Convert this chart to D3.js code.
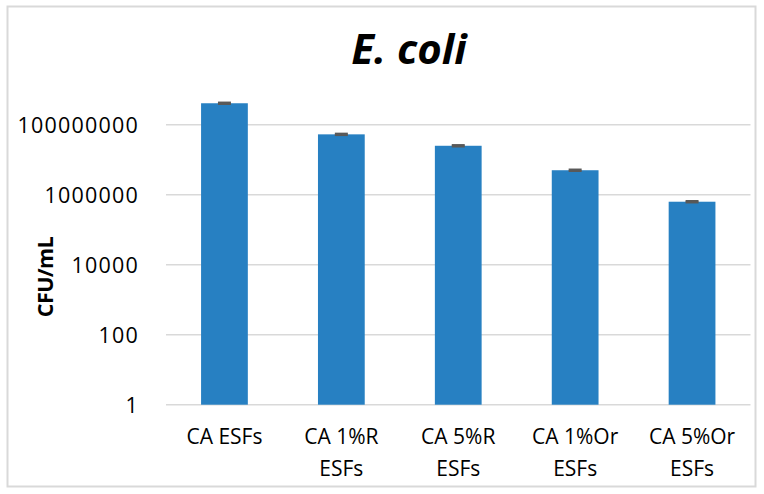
<!DOCTYPE html>
<html>
<head>
<meta charset="utf-8">
<script src="https://cdn.jsdelivr.net/npm/d3@7/dist/d3.min.js"></script>
<style>
  body { margin: 0; background: #fff; }
  svg { display: block; }
</style>
</head>
<body>
<svg id="chart" width="764" height="494"></svg>
<script>
const categories = ["CA ESFs", "CA 1%R ESFs", "CA 5%R ESFs", "CA 1%Or ESFs", "CA 5%Or ESFs"];
const categoryLines = [["CA ESFs"], ["CA 1%R", "ESFs"], ["CA 5%R", "ESFs"], ["CA 1%Or", "ESFs"], ["CA 5%Or", "ESFs"]];
const values = [4.1e8, 5.3e7, 2.5e7, 5.0e6, 6.3e5];
const errors = [1.9e7, 2.5e6, 1.2e6, 2.4e5, 3.0e4];
const yTicks = [1, 100, 10000, 1000000, 100000000];
const titleText = "E. coli";
const yTitle = "CFU/mL";

const svg = d3.select("#chart");
const W = 764, H = 494;
const font = "'Open Sans', 'Liberation Sans', sans-serif";

svg.append("rect").attr("x", 0).attr("y", 0).attr("width", W).attr("height", H).attr("fill", "#fff");
// outer border
svg.append("rect")
  .attr("x", 7.5).attr("y", 6.5).attr("width", 748).attr("height", 480)
  .attr("fill", "none").attr("stroke", "#d9d9d9").attr("stroke-width", 2);

const left = 166, right = 750.5;
const x = d3.scaleBand().domain(categories).range([left, right]).paddingInner(0.6).paddingOuter(0.3);
const y = d3.scaleLog().domain([1, 1e10]).range([404.7, 54.7]);

// gridlines
svg.append("g").selectAll("line").data(yTicks).join("line")
  .attr("x1", left).attr("x2", right)
  .attr("y1", d => y(d)).attr("y2", d => y(d))
  .attr("stroke", "#d9d9d9").attr("stroke-width", 1.5);

// y tick labels
svg.append("g").selectAll("text").data(yTicks).join("text")
  .attr("x", 139).attr("y", d => y(d))
  .attr("text-anchor", "end").attr("dominant-baseline", "central")
  .attr("font-family", font).attr("font-size", 21.5).attr("letter-spacing", 1.2)
  .attr("fill", "#000")
  .text(d => d3.format("d")(d));

// bars
svg.append("g").selectAll("rect").data(values).join("rect")
  .attr("x", (d, i) => x(categories[i]))
  .attr("width", x.bandwidth())
  .attr("y", d => y(d))
  .attr("height", d => y(1) - y(d))
  .attr("fill", "#2780c2");

// error bars
const eg = svg.append("g").attr("stroke", "#595959").attr("stroke-width", 2);
values.forEach((v, i) => {
  const cx = x(categories[i]) + x.bandwidth() / 2;
  eg.append("line").attr("x1", cx).attr("x2", cx).attr("y1", y(v + errors[i])).attr("y2", y(v - errors[i]));
  eg.append("line").attr("x1", cx - 6.5).attr("x2", cx + 6.5).attr("y1", y(v + errors[i])).attr("y2", y(v + errors[i]));
  eg.append("line").attr("x1", cx - 6.5).attr("x2", cx + 6.5).attr("y1", y(v - errors[i])).attr("y2", y(v - errors[i]));
});

// x labels
const xl = svg.append("g");
categoryLines.forEach((lines, i) => {
  const cx = x(categories[i]) + x.bandwidth() / 2;
  const t = xl.append("text").attr("text-anchor", "middle")
    .attr("font-family", font).attr("font-size", 21).attr("fill", "#000");
  lines.forEach((ln, j) => {
    t.append("tspan").attr("x", cx).attr("y", 444 + j * 32).text(ln);
  });
});

// title
svg.append("text").attr("x", 409).attr("y", 63.5).attr("text-anchor", "middle")
  .attr("font-family", font).attr("font-size", 42).attr("font-weight", "bold").attr("font-style", "italic")
  .attr("fill", "#000").text(titleText);

// y title
svg.append("text").attr("transform", "translate(53,277) rotate(-90)")
  .attr("text-anchor", "middle")
  .attr("font-family", font).attr("font-size", 21.5).attr("font-weight", "bold").attr("letter-spacing", -0.6)
  .attr("fill", "#000").text(yTitle);
</script>
</body>
</html>
